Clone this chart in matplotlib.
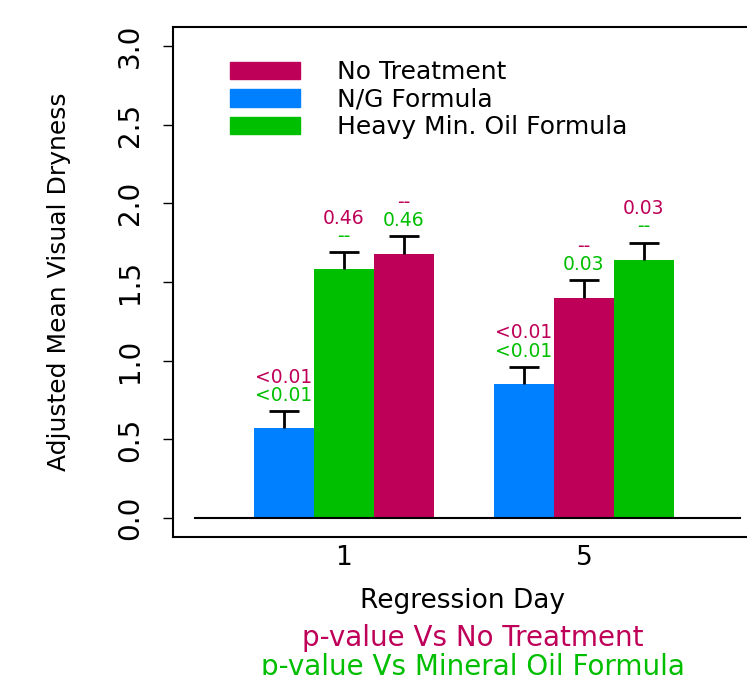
import matplotlib.pyplot as plt
from matplotlib.patches import Patch

# data
days = ['1', '5']
treat_names = ['No Treatment', 'N/G Formula', 'Heavy Min. Oil Formula']
treat_colors = {'No Treatment': '#BE0058', 'N/G Formula': '#0080FF',
                'Heavy Min. Oil Formula': '#00BE00'}

# bar order inside each day group as drawn
order_day1 = ['N/G Formula', 'Heavy Min. Oil Formula', 'No Treatment']
order_day5 = ['N/G Formula', 'No Treatment', 'Heavy Min. Oil Formula']
means_day1 = [0.57, 1.58, 1.68]
means_day5 = [0.85, 1.40, 1.64]
err_day1 = [0.11, 0.11, 0.11]
err_day5 = [0.11, 0.11, 0.11]

# p-values: vs No Treatment (magenta), vs Mineral Oil (green)
p_vs_none_day1 = ['<0.01', '0.46', '--']
p_vs_oil_day1 = ['<0.01', '--', '0.46']
p_vs_none_day5 = ['<0.01', '--', '0.03']
p_vs_oil_day5 = ['<0.01', '0.03', '--']

magenta = '#BE0058'
green = '#00BE00'

fig = plt.figure(figsize=(7.47, 6.75), dpi=100)
ax = fig.add_axes([0.2316, 0.2044, 0.775, 0.7556])

groups = [(order_day1, means_day1, err_day1, p_vs_none_day1, p_vs_oil_day1),
          (order_day5, means_day5, err_day5, p_vs_none_day5, p_vs_oil_day5)]

for g, (order, means, errs, pn, po) in enumerate(groups):
    for k in range(3):
        x = g * 4 + (k - 1)
        ax.bar(x, means[k], width=1.0, color=treat_colors[order[k]], zorder=2)
        eb = ax.errorbar(x, means[k], yerr=[[0], [errs[k]]], fmt='none', ecolor='black',
                         elinewidth=2, capsize=11, capthick=2, zorder=3)
        # only keep the upper cap
        for cl in eb[1]:
            if abs(cl.get_ydata()[0] - means[k]) < 1e-9:
                cl.set_visible(False)
        top = means[k] + errs[k]
        ax.annotate(po[k], (x, top), xytext=(0, 11.5), textcoords='offset points',
                    ha='center', va='center', color=green, fontsize=13.5)
        ax.annotate(pn[k], (x, top), xytext=(0, 24.5), textcoords='offset points',
                    ha='center', va='center', color=magenta, fontsize=13.5)

# baseline at zero
ax.plot([-2.48, 6.6], [0, 0], color='black', lw=1.5, zorder=4)

ax.set_xlim(-2.85, 6.8)
ax.set_ylim(-0.12, 3.12)
ax.set_xticks([0, 4])
ax.set_xticklabels(days, fontsize=19)
ax.tick_params(axis='x', length=0, pad=6)
ax.set_yticks([0, 0.5, 1.0, 1.5, 2.0, 2.5, 3.0])
ax.set_yticklabels(['0.0', '0.5', '1.0', '1.5', '2.0', '2.5', '3.0'],
                   fontsize=20, rotation=90, va='center')
ax.tick_params(axis='y', length=7, width=1, pad=14)
for s in ax.spines.values():
    s.set_linewidth(1.5)

ax.set_ylabel('Adjusted Mean Visual Dryness', fontsize=18, labelpad=32)
ax.set_xlabel('Regression Day', fontsize=19, labelpad=12)

handles = [Patch(color=treat_colors[n]) for n in treat_names]
ax.legend(handles, treat_names, loc='upper left', bbox_to_anchor=(0.098, 0.935),
          frameon=False, fontsize=18, handlelength=2.8, handleheight=0.72,
          handletextpad=1.5, labelspacing=0.14, borderpad=0, borderaxespad=0)

fig.text(0.633, 0.055, 'p-value Vs No Treatment', color=magenta, fontsize=20,
         ha='center', va='center')
fig.text(0.633, 0.012, 'p-value Vs Mineral Oil Formula', color=green, fontsize=20,
         ha='center', va='center')

fig.savefig('out.png', dpi=100)
